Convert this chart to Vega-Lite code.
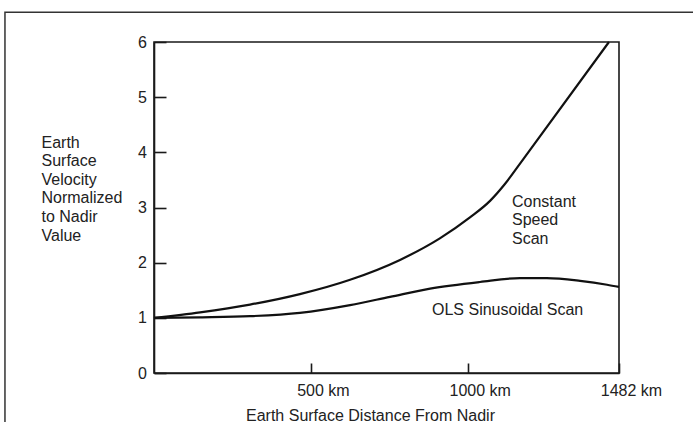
{
  "$schema": "https://vega.github.io/schema/vega-lite/v6.json",
  "width": 465,
  "height": 331,
  "autosize": {"type": "none"},
  "padding": {"left": 154, "top": 42, "right": 74, "bottom": 49},
  "background": "white",
  "config": {
    "view": {"stroke": "#1a1a1a", "strokeWidth": 1.6},
    "font": "Liberation Sans",
    "axis": {
      "domainColor": "#1a1a1a",
      "domainWidth": 1.6,
      "tickColor": "#1a1a1a",
      "tickWidth": 1.6,
      "grid": false,
      "labelFont": "Liberation Sans",
      "labelFontSize": 16,
      "labelColor": "#222222",
      "titleFont": "Liberation Sans",
      "titleFontSize": 16,
      "titleFontWeight": "normal",
      "titleColor": "#222222"
    },
    "text": {"font": "Liberation Sans", "fontSize": 16, "color": "#222222"}
  },
  "datasets": {
    "curves": [
      {"series": "Constant Speed Scan", "km": 0, "v": 1.0},
      {"series": "Constant Speed Scan", "km": 147, "v": 1.10},
      {"series": "Constant Speed Scan", "km": 306, "v": 1.24},
      {"series": "Constant Speed Scan", "km": 465, "v": 1.43},
      {"series": "Constant Speed Scan", "km": 625, "v": 1.69},
      {"series": "Constant Speed Scan", "km": 784, "v": 2.05},
      {"series": "Constant Speed Scan", "km": 911, "v": 2.44},
      {"series": "Constant Speed Scan", "km": 1007, "v": 2.82},
      {"series": "Constant Speed Scan", "km": 1071, "v": 3.12},
      {"series": "Constant Speed Scan", "km": 1119, "v": 3.43},
      {"series": "Constant Speed Scan", "km": 1166, "v": 3.79},
      {"series": "Constant Speed Scan", "km": 1450, "v": 6.0},
      {"series": "OLS Sinusoidal Scan", "km": 0, "v": 1.0},
      {"series": "OLS Sinusoidal Scan", "km": 147, "v": 1.01},
      {"series": "OLS Sinusoidal Scan", "km": 306, "v": 1.03},
      {"series": "OLS Sinusoidal Scan", "km": 465, "v": 1.09},
      {"series": "OLS Sinusoidal Scan", "km": 625, "v": 1.23},
      {"series": "OLS Sinusoidal Scan", "km": 752, "v": 1.38},
      {"series": "OLS Sinusoidal Scan", "km": 880, "v": 1.53},
      {"series": "OLS Sinusoidal Scan", "km": 1039, "v": 1.65},
      {"series": "OLS Sinusoidal Scan", "km": 1166, "v": 1.72},
      {"series": "OLS Sinusoidal Scan", "km": 1252, "v": 1.72},
      {"series": "OLS Sinusoidal Scan", "km": 1358, "v": 1.67},
      {"series": "OLS Sinusoidal Scan", "km": 1444, "v": 1.60},
      {"series": "OLS Sinusoidal Scan", "km": 1482, "v": 1.56}
    ]
  },
  "layer": [
    {
      "data": {"values": [{}]},
      "mark": {"type": "rect", "filled": false, "fill": null, "stroke": "#333333", "strokeWidth": 1.5, "clip": false},
      "encoding": {
        "x": {"datum": -475, "type": "quantitative", "scale": {"domain": [0, 1482], "nice": false, "zero": false}},
        "x2": {"datum": 1780},
        "y": {"datum": 6.54, "type": "quantitative", "scale": {"domain": [0, 6], "nice": false, "zero": false}},
        "y2": {"datum": -1.3}
      }
    },
    {
      "data": {"name": "curves"},
      "mark": {"type": "line", "color": "#111111", "strokeWidth": 2.2, "interpolate": "monotone"},
      "encoding": {
        "x": {
          "field": "km",
          "type": "quantitative",
          "scale": {"domain": [0, 1482], "nice": false, "zero": false},
          "axis": {
            "values": [500, 1000, 1482],
            "labelExpr": "datum.value + ' km'",
            "title": "Earth Surface Distance From Nadir",
            "tickSize": -10,
            "labelPadding": 19,
            "labelOffset": 12,
            "labelFlush": false,
            "labelOverlap": false,
            "titleX": 216,
            "titleY": 34,
            "titleBaseline": "top",
            "titleAlign": "center"
          }
        },
        "y": {
          "field": "v",
          "type": "quantitative",
          "scale": {"domain": [0, 6], "nice": false, "zero": false},
          "axis": {
            "values": [0, 1, 2, 3, 4, 5, 6],
            "format": "d",
            "title": ["Earth", "Surface", "Velocity", "Normalized", "to Nadir", "Value"],
            "titleAngle": 0,
            "titleAlign": "left",
            "titleBaseline": "top",
            "titleX": -113,
            "titleY": 92,
            "titleLineHeight": 18.6,
            "tickSize": -12,
            "labelPadding": 19.5,
            "labelFlush": false,
            "labelOverlap": false,
            "labelDy": 2
          }
        },
        "detail": {"field": "series", "type": "nominal"}
      }
    },
    {
      "data": {"values": [{}]},
      "mark": {"type": "text", "text": ["Constant", "Speed", "Scan"], "align": "left", "baseline": "top", "lineHeight": 18.5},
      "encoding": {
        "x": {"datum": 1141, "type": "quantitative"},
        "y": {"datum": 3.245, "type": "quantitative"}
      }
    },
    {
      "data": {"values": [{}]},
      "mark": {"type": "text", "text": "OLS Sinusoidal Scan", "align": "center", "baseline": "middle"},
      "encoding": {
        "x": {"datum": 1127, "type": "quantitative"},
        "y": {"datum": 1.14, "type": "quantitative"}
      }
    }
  ]
}
